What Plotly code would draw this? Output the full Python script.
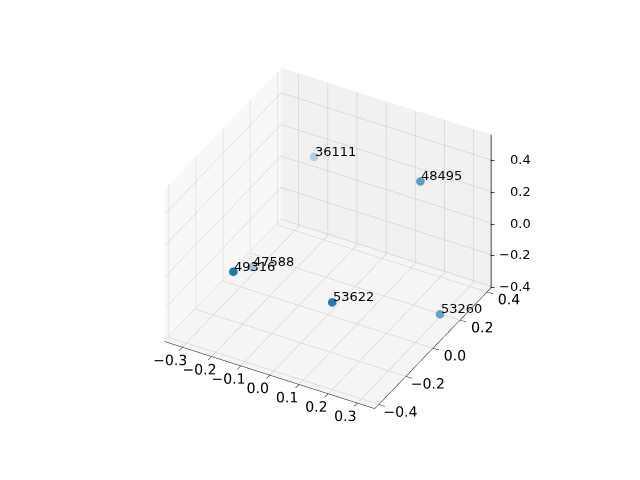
import numpy as np
import plotly.graph_objects as go

labels = ["36111", "48495", "49316", "47588", "53622", "53260"]
xs = [-0.208, 0.197, -0.144, -0.262, 0.134, 0.344]
ys = [0.344, 0.258, -0.390, 0.000, -0.258, 0.086]
zs = [0.162, 0.322, 0.126, -0.262, -0.022, -0.280]

x_range = [-0.36, 0.36]
y_range = [-0.43, 0.43]
z_range = [-0.41, 0.56]
x_ticks = [-0.3, -0.2, -0.1, 0.0, 0.1, 0.2, 0.3]
y_ticks = [-0.4, -0.2, 0.0, 0.2, 0.4]
z_ticks = [-0.4, -0.2, 0.0, 0.2, 0.4]

# view approximating matplotlib's default perspective view
elev, azim = np.radians(34), np.radians(-61)
eye_dir = np.array([np.cos(elev) * np.cos(azim), np.cos(elev) * np.sin(azim), np.sin(elev)])
aspect = np.array([1.0, 1.0, 0.78])

# depth shading like matplotlib's depthshade
def norm(v, r):
    return (np.asarray(v) - r[0]) / (r[1] - r[0]) - 0.5
pts = np.vstack([norm(xs, x_range), norm(ys, y_range), norm(zs, z_range)]).T * aspect
depth = pts @ eye_dir
t = (depth - depth.min()) / (depth.max() - depth.min())
alphas = 0.3 + 0.7 * t
base = np.array([31, 119, 180])
colors = []
for a in alphas:
    c = a * base + (1 - a) * np.array([245, 245, 245])
    colors.append("rgb(%d,%d,%d)" % tuple(np.round(c).astype(int)))

fig = go.Figure()
fig.add_trace(go.Scatter3d(
    x=xs, y=ys, z=zs, mode="markers",
    marker=dict(size=5, color=colors, opacity=1, line=dict(width=0)),
    hoverinfo="skip",
))

# z axis drawn on the right-hand edge, like matplotlib
fig.add_trace(go.Scatter3d(
    x=[x_range[1], x_range[1]], y=[y_range[1], y_range[1]], z=z_range,
    mode="lines", line=dict(color="black", width=1.5), hoverinfo="skip",
))

font = dict(family="DejaVu Sans", size=13, color="black")
annotations = []
for lab, x, y, z in zip(labels, xs, ys, zs):
    annotations.append(dict(x=x, y=y, z=z, text=lab, showarrow=False,
                            xanchor="left", yanchor="bottom", xshift=-1, yshift=-4, font=font))
for zt in z_ticks:
    annotations.append(dict(x=x_range[1], y=y_range[1], z=zt, text=f"{zt:.1f}".replace("-", "\u2212"),
                            showarrow=False, xanchor="right", yanchor="middle", xshift=42, font=font))
    annotations.append(dict(x=x_range[1], y=y_range[1], z=zt, text="\u2013",
                            showarrow=False, xanchor="left", yanchor="middle", xshift=-3,
                            font=dict(family="DejaVu Sans", size=10, color="black")))

axis_common = dict(
    showbackground=True,
    gridcolor="rgb(198,198,198)", gridwidth=1,
    showline=True, linecolor="black", linewidth=1,
    ticks="outside", tickcolor="black", ticklen=7,
    zeroline=False, title=dict(text=""), tickformat=".1f", tickangle=0,
    tickfont=dict(family="DejaVu Sans", size=13, color="black"), showspikes=False,
)

k = 2.0
fig.update_layout(
    width=640, height=480,
    margin=dict(l=0, r=0, t=0, b=0),
    paper_bgcolor="white",
    showlegend=False,
    scene=dict(
        domain=dict(x=[0.0, 1.0], y=[0.0, 1.0]),
        xaxis=dict(range=x_range, tickvals=x_ticks, backgroundcolor="rgb(248,248,248)", **axis_common),
        yaxis=dict(range=y_range, tickvals=y_ticks, backgroundcolor="rgb(241,241,241)", **axis_common),
        zaxis=dict(range=z_range, tickvals=z_ticks, backgroundcolor="rgb(245,245,245)",
                   **dict(axis_common, showticklabels=False, showline=False, ticks="")),
        aspectmode="manual", aspectratio=dict(x=aspect[0], y=aspect[1], z=aspect[2]),
        camera=dict(eye=dict(x=k * eye_dir[0], y=k * eye_dir[1], z=k * eye_dir[2]),
                    center=dict(x=0, y=0, z=-0.05), up=dict(x=0, y=0, z=1),
                    projection=dict(type="orthographic")),
        annotations=annotations,
    ),
)

fig.write_html("out.html")
